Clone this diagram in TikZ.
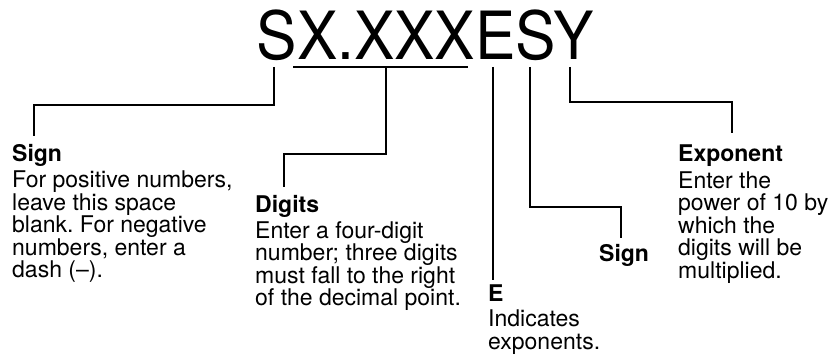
\documentclass[tikz,border=0pt]{standalone}
\usepackage{fontspec}
\setmainfont{TeX Gyre Heros}
\usetikzlibrary{calc}
\frenchspacing

\begin{document}
\begin{tikzpicture}[x=1pt, y=-1pt,
    lead/.style={line width=1.6pt},
    callout/.style={anchor=north west, inner sep=0pt, align=left,
        font=\fontsize{23}{22.5}\selectfont}]
    \useasboundingbox (0,0) rectangle (836,361);
    % number format
    \node [anchor=base, inner sep=0pt, font=\fontsize{66.5}{70}\selectfont] (fmt) at (425,60) {\scalebox{0.91}[1]{SX.XXXESY}};
    % points under the characters
    \coordinate (s1) at (274,67);
    \coordinate (u1) at (293,67);
    \coordinate (u2) at (468,67);
    \coordinate (dig) at (386,67);
    \coordinate (e) at (493,67);
    \coordinate (s2) at (530,67);
    \coordinate (y) at (570,67);
    % callouts
    \node [callout] (signL) at (12,144) {\textbf{Sign}\\[4pt]For positive numbers,\\leave this space\\blank. For negative\\numbers, enter a\\dash (--).};
    \node [callout] (digits) at (255,195) {\textbf{Digits}\\[3.5pt]Enter a four-digit\\number; three digits\\must fall to the right\\of the decimal point.};
    \node [callout] (expE) at (488,285) {\textbf{E}\\[2.5pt]Indicates\\exponents.};
    \node [callout] (signR) at (599,244) {\textbf{Sign}};
    \node [callout] (expo) at (678,145) {\textbf{Exponent}\\[4pt]Enter the\\power of 10 by\\which the\\digits will be\\multiplied.};
    % ends of the leader lines
    \coordinate (signL-top) at (34,136);
    \coordinate (digits-top) at (284,187);
    \coordinate (expE-top) at (493,280);
    \coordinate (signR-top) at (621,238);
    \coordinate (expo-top) at (732,133);
    % leader lines
    \draw [lead] (s1) -- ++(0,38) -| (signL-top);
    \draw [lead] (u1) -- (u2);
    \draw [lead] (dig) -- ++(0,87) -| (digits-top);
    \draw [lead] (e) -- (expE-top);
    \draw [lead] (s2) -- ++(0,140) -| (signR-top);
    \draw [lead] (y) -- ++(0,35) -| (expo-top);
\end{tikzpicture}
\end{document}
